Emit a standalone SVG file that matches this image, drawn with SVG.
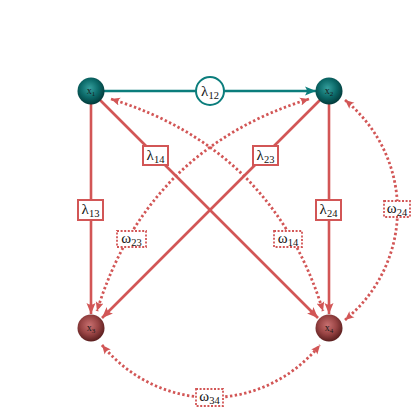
<svg xmlns="http://www.w3.org/2000/svg" width="420" height="420" viewBox="0 0 420 420">
<style>
.teal{stroke:#0b7d7c;stroke-width:2.6;fill:none}
.red{stroke:#d25656;stroke-width:2.6;fill:none}
.dot{stroke:#d25656;stroke-width:2.8;fill:none;stroke-dasharray:2.4 2.4}
.box{fill:#fff;stroke:#d25656;stroke-width:2}
.dbox{fill:#fff;stroke:#d25656;stroke-width:1.8;stroke-dasharray:2 1.6}
.lab{font-family:"Liberation Serif","DejaVu Serif",serif;font-size:15px;fill:#111;text-anchor:middle}
.nlab{font-family:"Liberation Serif","DejaVu Serif",serif;font-size:10px;fill:#1a1a1a;text-anchor:middle}
</style>
<defs>
<radialGradient id="gt" cx="0.45" cy="0.4" r="0.6">
<stop offset="0" stop-color="#35a09e"/><stop offset="0.55" stop-color="#0c6a69"/><stop offset="1" stop-color="#023a3a"/>
</radialGradient>
<radialGradient id="gr" cx="0.45" cy="0.4" r="0.6">
<stop offset="0" stop-color="#c87070"/><stop offset="0.55" stop-color="#994444"/><stop offset="1" stop-color="#5a1e1e"/>
</radialGradient>
<marker id="at" viewBox="-11 -5 12 10" refX="0" refY="0" markerWidth="12" markerHeight="10" markerUnits="userSpaceOnUse" orient="auto">
<path d="M0,0 L-11,-4.5 Q-7.5,0 -11,4.5 Z" fill="#0b7d7c"/>
</marker>
<marker id="ar" viewBox="-11 -5 12 10" refX="0" refY="0" markerWidth="12" markerHeight="10" markerUnits="userSpaceOnUse" orient="auto">
<path d="M0,0 L-11,-4.5 Q-7.5,0 -11,4.5 Z" fill="#d25656"/>
</marker>
<marker id="ad" viewBox="-9 -4.5 10 9" refX="0" refY="0" markerWidth="10" markerHeight="9" markerUnits="userSpaceOnUse" orient="auto-start-reverse">
<path d="M0,0 L-9,-4 Q-6,0 -9,4 Z" fill="#d25656"/>
</marker>
</defs>
<g id="connectors">
<line class="teal" x1="104" y1="91" x2="316" y2="91" marker-end="url(#at)"/>
<line class="red" x1="91" y1="104" x2="91" y2="314" marker-end="url(#ar)"/>
<line class="red" x1="329" y1="104" x2="329" y2="314" marker-end="url(#ar)"/>
<line class="red" x1="100" y1="100" x2="318" y2="318" marker-end="url(#ar)"/>
<line class="red" x1="320" y1="100" x2="102" y2="318" marker-end="url(#ar)"/>
<path class="dot" d="M111,99 Q273,149 323,311" marker-start="url(#ad)" marker-end="url(#ad)"/>
<path class="dot" d="M309,99 Q147,149 97,311" marker-start="url(#ad)" marker-end="url(#ad)"/>
<path class="dot" d="M345,100 C415,158 415,262 345,320" marker-start="url(#ad)" marker-end="url(#ad)"/>
<path class="dot" d="M102,345 C160,415 262,415 320,345" marker-start="url(#ad)" marker-end="url(#ad)"/>
<g id="lab-l12">
<circle cx="210" cy="91" r="14" fill="#fff" stroke="#0b7d7c" stroke-width="2"/>
<text class="lab" x="210" y="96">λ<tspan font-size="10.5" dy="3">12</tspan></text>
</g>
<g id="lab-l14"><rect class="box" x="143" y="146" width="25" height="19"/><text class="lab" x="155.5" y="160">λ<tspan font-size="10.5" dy="3">14</tspan></text></g>
<g id="lab-l23"><rect class="box" x="253" y="146" width="25" height="19"/><text class="lab" x="265.5" y="160">λ<tspan font-size="10.5" dy="3">23</tspan></text></g>
<g id="lab-l13"><rect class="box" x="78" y="200" width="25" height="20"/><text class="lab" x="90.5" y="214">λ<tspan font-size="10.5" dy="3">13</tspan></text></g>
<g id="lab-l24"><rect class="box" x="316" y="200" width="25" height="20"/><text class="lab" x="328.5" y="214">λ<tspan font-size="10.5" dy="3">24</tspan></text></g>
<g id="lab-w14"><rect class="dbox" x="274" y="231" width="28" height="16"/><text class="lab" x="288" y="243">ω<tspan font-size="10.5" dy="3">14</tspan></text></g>
<g id="lab-w23"><rect class="dbox" x="117" y="231" width="29" height="16"/><text class="lab" x="131.5" y="243">ω<tspan font-size="10.5" dy="3">23</tspan></text></g>
<g id="lab-w24"><rect class="dbox" x="384" y="201" width="26" height="16"/><text class="lab" x="397" y="213">ω<tspan font-size="10.5" dy="3">24</tspan></text></g>
<g id="lab-w34"><rect class="dbox" x="196" y="389" width="27" height="17"/><text class="lab" x="209.5" y="401">ω<tspan font-size="10.5" dy="3">34</tspan></text></g>
</g>
<g id="node-x1"><circle cx="91" cy="91" r="13.5" fill="url(#gt)"/><text class="nlab" x="91" y="94">x<tspan font-size="7" dy="2">1</tspan></text></g>
<g id="node-x2"><circle cx="329" cy="91" r="13.5" fill="url(#gt)"/><text class="nlab" x="329" y="94">x<tspan font-size="7" dy="2">2</tspan></text></g>
<g id="node-x3"><circle cx="91" cy="328" r="13.5" fill="url(#gr)"/><text class="nlab" x="91" y="331">x<tspan font-size="7" dy="2">3</tspan></text></g>
<g id="node-x4"><circle cx="329" cy="328" r="13.5" fill="url(#gr)"/><text class="nlab" x="329" y="331">x<tspan font-size="7" dy="2">4</tspan></text></g>
</svg>
